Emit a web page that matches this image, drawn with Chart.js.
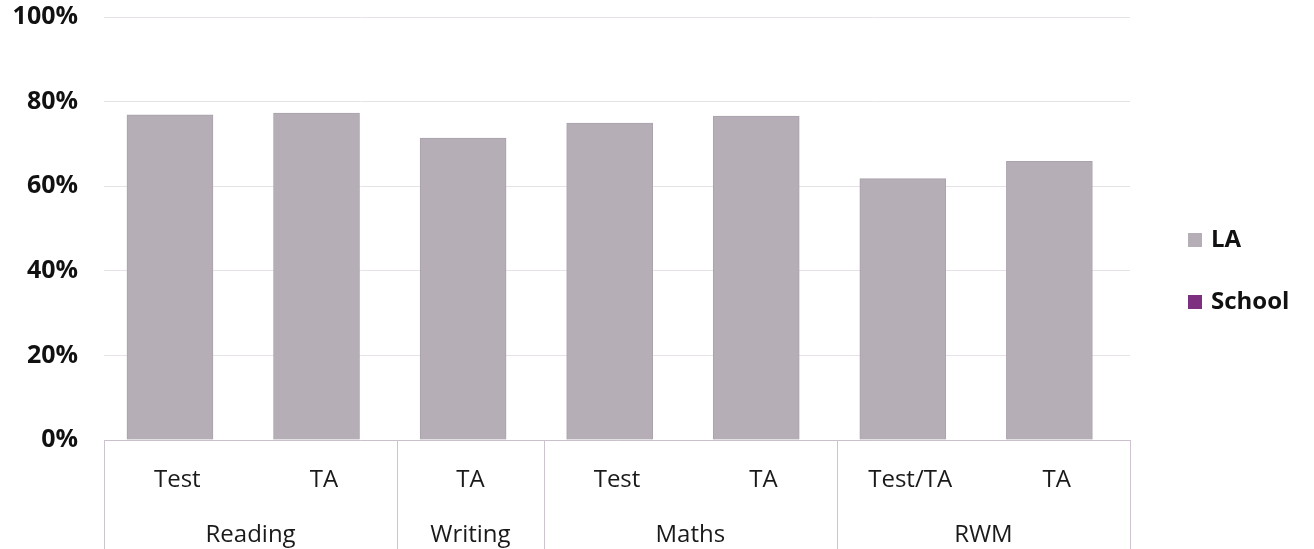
<!DOCTYPE html>
<html>
<head>
<meta charset="utf-8">
<script src="https://cdn.jsdelivr.net/npm/chart.js@4.4.1/dist/chart.umd.min.js"></script>
<style>
  html, body { margin: 0; padding: 0; background: #fff; }
  #wrap { width: 1314px; height: 549px; position: relative; }
</style>
</head>
<body>
<div id="wrap"><canvas id="chart" width="1314" height="549"></canvas></div>
<script>
// dati
const subLabels = ['Test', 'TA', 'TA', 'Test', 'TA', 'Test/TA', 'TA'];
const groupLabels = ['Reading', 'Writing', 'Maths', 'RWM'];
const groupSizes = [2, 1, 2, 2];
const laValues = [76.9, 77.3, 71.4, 74.9, 76.6, 61.8, 65.9];
const schoolValues = [null, null, null, null, null, null, null];

const FONT = "'Open Sans', 'Noto Sans', sans-serif";

// nell'originale le barre sono leggermente spostate a sinistra rispetto alle etichette
const BAR_SHIFT = 0.05;

const toPoints = arr => arr.map((v, i) => ({ x: i, y: v }));

// etichette dei gruppi e linee di separazione sotto l'asse
const groupAxisPlugin = {
  id: 'groupAxis',
  afterDraw(chart) {
    const ctx = chart.ctx;
    const x = chart.scales.x;
    const area = chart.chartArea;
    const bottom = chart.height;
    let start = 0;
    const edges = [area.left];
    ctx.save();
    ctx.font = '24px ' + FONT;
    ctx.fillStyle = '#1a1a1a';
    ctx.textAlign = 'center';
    ctx.textBaseline = 'middle';
    groupSizes.forEach((size, i) => {
      const end = start + size - 1;
      const left = start === 0 ? area.left : (x.getPixelForValue(start - 1) + x.getPixelForValue(start)) / 2;
      const right = end === subLabels.length - 1 ? area.right : (x.getPixelForValue(end) + x.getPixelForValue(end + 1)) / 2;
      edges.push(right);
      ctx.fillText(groupLabels[i], (left + right) / 2, 535);
      start += size;
    });
    ctx.strokeStyle = '#cdc4d0';
    ctx.lineWidth = 1;
    edges.forEach(ex => {
      const px = Math.round(ex) + 0.5;
      ctx.beginPath();
      ctx.moveTo(px, area.bottom);
      ctx.lineTo(px, bottom);
      ctx.stroke();
    });
    ctx.restore();
  }
};

// legenda a destra
const sideLegendPlugin = {
  id: 'sideLegend',
  afterDraw(chart) {
    const ctx = chart.ctx;
    ctx.save();
    ctx.font = 'bold 24px ' + FONT;
    ctx.textBaseline = 'middle';
    ctx.textAlign = 'left';
    chart.data.datasets.forEach((ds, i) => {
      const y = 240 + i * 62;
      ctx.fillStyle = ds.backgroundColor;
      ctx.fillRect(1188, y - 7, 14, 14);
      ctx.fillStyle = '#111';
      ctx.fillText(ds.label, 1211, y);
    });
    ctx.restore();
  }
};

const ctx = document.getElementById('chart').getContext('2d');
const chart = new Chart(ctx, {
  type: 'bar',
  data: {
    labels: subLabels,
    datasets: [
      {
        label: 'LA',
        data: toPoints(laValues),
        xAxisID: 'xBars',
        backgroundColor: '#b5aeb6',
        borderColor: '#aba2ac',
        borderWidth: 1,
        grouped: false,
        barThickness: 86
      },
      {
        label: 'School',
        data: toPoints(schoolValues),
        xAxisID: 'xBars',
        backgroundColor: '#7d2f80',
        grouped: false,
        barThickness: 86
      }
    ]
  },
  options: {
    responsive: false,
    maintainAspectRatio: false,
    animation: false,
    devicePixelRatio: 1,
    layout: { padding: { top: 0, right: 184, bottom: 0, left: 0 } },
    plugins: {
      legend: { display: false },
      tooltip: { enabled: false }
    },
    scales: {
      x: {
        type: 'category',
        grid: { display: true, drawOnChartArea: false, drawTicks: false },
        border: { display: true, color: '#c9c0cb', width: 1 },
        ticks: {
          font: { family: FONT, size: 24 },
          color: '#1a1a1a',
          padding: 26,
          maxRotation: 0,
          autoSkip: false
        },
        afterFit(scale) { scale.height = 109; }
      },
      xBars: {
        type: 'linear',
        display: false,
        offset: false,
        grid: { offset: false },
        min: -0.5 + BAR_SHIFT,
        max: subLabels.length - 0.5 + BAR_SHIFT
      },
      y: {
        min: 0,
        max: 100,
        ticks: {
          stepSize: 20,
          font: { family: FONT, size: 25, weight: 'bold' },
          color: '#111',
          padding: 26,
          callback: v => v + '%'
        },
        grid: { color: '#e6e2e8', drawTicks: false },
        border: { display: false },
        afterFit(scale) {
          scale.width = 104;
          scale.paddingTop = 17;
        }
      }
    }
  },
  plugins: [groupAxisPlugin, sideLegendPlugin]
});
</script>
</body>
</html>
